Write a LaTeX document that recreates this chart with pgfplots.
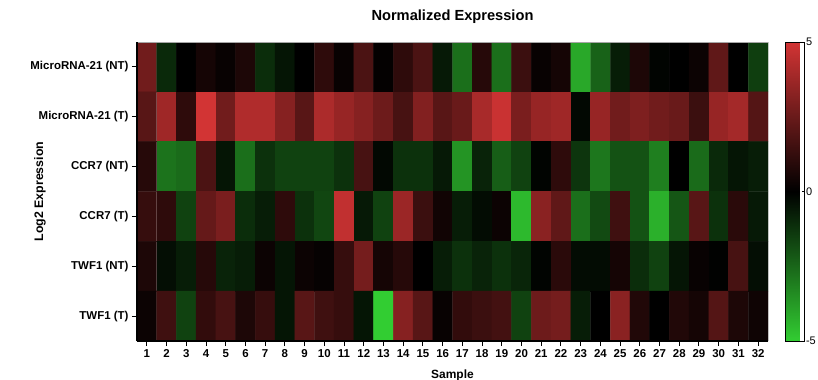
\documentclass[border=0pt]{standalone}
\usepackage{fontspec}
\setmainfont{Liberation Sans}
\usepackage{pgfplots}
\pgfplotsset{compat=1.18}
\begin{document}
\begin{tikzpicture}
\useasboundingbox (-137bp,-39bp) rectangle (681bp,341bp);
\begin{axis}[
  at={(0,0)}, anchor=south west,
  scale only axis, width=631bp, height=299bp,
  xmin=0.5, xmax=32.5, ymin=0.5, ymax=6.5, y dir=reverse,
  xtick={1,...,32}, ytick={1,...,6},
  yticklabels={MicroRNA-21 (NT), MicroRNA-21 (T), CCR7 (NT), CCR7 (T), TWF1 (NT), TWF1 (T)},
  /pgf/number format/assume math mode=true,
  ticklabel style={font=\bfseries\fontsize{11.5}{12}\selectfont},
  tick align=outside, tick pos=left, major tick length=5bp,
  tick style={black, line width=1pt},
  axis x line*=bottom, axis y line*=left,
  axis line style={black, line width=1.6pt, -},
  axis on top,
  title={Normalized Expression},
  title style={font=\bfseries\fontsize{14.7}{16}\selectfont, at={(axis description cs:0.5,1)}, anchor=base, yshift=16bp},
  ylabel={Log2 Expression},
  ylabel style={font=\bfseries\fontsize{12.4}{14}\selectfont, at={(axis description cs:-0.1537,0.5)}, anchor=center},
  xlabel={Sample},
  xlabel style={font=\bfseries\fontsize{12}{14}\selectfont, at={(axis description cs:0.5,0)}, anchor=base, yshift=-37bp},
  colormap={rg}{rgb255(0cm)=(50,205,50); rgb255(1cm)=(0,0,0); rgb255(2cm)=(210,52,52)},
  point meta min=-5, point meta max=5,
  colorbar,
  colorbar style={
    at={(parent axis.north east)}, anchor=north west, xshift=9bp,
    width=19bp,
    ytick={-5,0,5}, yticklabel pos=right,
    /pgf/number format/assume math mode=true,
    yticklabel style={font=\fontsize{11}{12}\selectfont, xshift=-2bp},
    tick align=inside, major tick length=3bp,
    tick style={black, line width=0.8pt},
    axis line style={black, line width=1pt},
  },
]
\addplot[matrix plot*, mesh/cols=32, mesh/rows=6, point meta=explicit] coordinates {
(1,1)[2.7] (2,1)[-1.0] (3,1)[0] (4,1)[0.5] (5,1)[0.2] (6,1)[0.7] (7,1)[-1.1] (8,1)[-0.5] (9,1)[0] (10,1)[1.1] (11,1)[0.2] (12,1)[1.8] (13,1)[0.1] (14,1)[1.1] (15,1)[1.8] (16,1)[-0.6] (17,1)[-2.7] (18,1)[0.9] (19,1)[-2.7] (20,1)[1.4] (21,1)[0.2] (22,1)[0.5] (23,1)[-4.1] (24,1)[-2.4] (25,1)[-0.7] (26,1)[0.7] (27,1)[-0.1] (28,1)[0] (29,1)[0.3] (30,1)[2.3] (31,1)[0] (32,1)[-1.5]

(1,2)[2.1] (2,2)[3.8] (3,2)[1.1] (4,2)[5.0] (5,2)[2.7] (6,2)[4.2] (7,2)[4.2] (8,2)[3.2] (9,2)[2.1] (10,2)[4.1] (11,2)[3.6] (12,2)[3.2] (13,2)[2.6] (14,2)[1.7] (15,2)[3.1] (16,2)[2.1] (17,2)[2.5] (18,2)[4.0] (19,2)[4.8] (20,2)[2.9] (21,2)[3.6] (22,2)[3.8] (23,2)[-0.2] (24,2)[3.6] (25,2)[2.7] (26,2)[3.0] (27,2)[2.7] (28,2)[2.5] (29,2)[1.4] (30,2)[3.6] (31,2)[3.9] (32,2)[2.0]

(1,3)[0.9] (2,3)[-2.8] (3,3)[-2.6] (4,3)[1.8] (5,3)[-0.5] (6,3)[-2.7] (7,3)[-1.2] (8,3)[-1.6] (9,3)[-1.6] (10,3)[-1.6] (11,3)[-1.2] (12,3)[1.7] (13,3)[-0.2] (14,3)[-1.2] (15,3)[-1.2] (16,3)[-0.6] (17,3)[-3.6] (18,3)[-0.85] (19,3)[-2.3] (20,3)[-1.6] (21,3)[-0.1] (22,3)[1.1] (23,3)[-1.3] (24,3)[-2.9] (25,3)[-2.0] (26,3)[-2.0] (27,3)[-3.1] (28,3)[0] (29,3)[-2.6] (30,3)[-1.0] (31,3)[-0.5] (32,3)[-0.7]

(1,4)[1.3] (2,4)[1.1] (3,4)[-1.6] (4,4)[2.4] (5,4)[2.9] (6,4)[-1.1] (7,4)[-0.7] (8,4)[1.1] (9,4)[-1.2] (10,4)[-1.7] (11,4)[4.6] (12,4)[-0.6] (13,4)[-1.6] (14,4)[3.7] (15,4)[1.4] (16,4)[0.4] (17,4)[-0.7] (18,4)[-0.3] (19,4)[0.3] (20,4)[-4.5] (21,4)[3.3] (22,4)[2.3] (23,4)[-2.7] (24,4)[-1.8] (25,4)[1.5] (26,4)[-2.0] (27,4)[-4.3] (28,4)[-2.1] (29,4)[2.1] (30,4)[-1.2] (31,4)[1.0] (32,4)[-0.6]

(1,5)[0.7] (2,5)[-0.35] (3,5)[-0.7] (4,5)[0.9] (5,5)[-0.85] (6,5)[-0.7] (7,5)[0.3] (8,5)[-0.5] (9,5)[0.3] (10,5)[0.15] (11,5)[1.3] (12,5)[2.8] (13,5)[0.5] (14,5)[0.9] (15,5)[0] (16,5)[-0.7] (17,5)[-1.2] (18,5)[-0.85] (19,5)[-1.2] (20,5)[-0.9] (21,5)[-0.1] (22,5)[1.0] (23,5)[-0.3] (24,5)[-0.3] (25,5)[0.5] (26,5)[-1.1] (27,5)[-1.6] (28,5)[-0.5] (29,5)[0.2] (30,5)[-0.05] (31,5)[1.7] (32,5)[-0.35]

(1,6)[0.3] (2,6)[1.5] (3,6)[-1.6] (4,6)[1.2] (5,6)[1.7] (6,6)[0.7] (7,6)[1.3] (8,6)[-0.5] (9,6)[2.1] (10,6)[1.5] (11,6)[1.3] (12,6)[-0.5] (13,6)[-5.0] (14,6)[3.2] (15,6)[2.1] (16,6)[0.2] (17,6)[1.2] (18,6)[1.4] (19,6)[1.6] (20,6)[-1.6] (21,6)[2.6] (22,6)[2.8] (23,6)[-0.7] (24,6)[0] (25,6)[3.3] (26,6)[0.8] (27,6)[0] (28,6)[0.8] (29,6)[0.5] (30,6)[2.0] (31,6)[0.7] (32,6)[0.35]
};
\draw[gray!70, line width=0.8pt] (rel axis cs:0,1) -- (rel axis cs:1,1) -- (rel axis cs:1,0);
\end{axis}
\end{tikzpicture}
\end{document}
